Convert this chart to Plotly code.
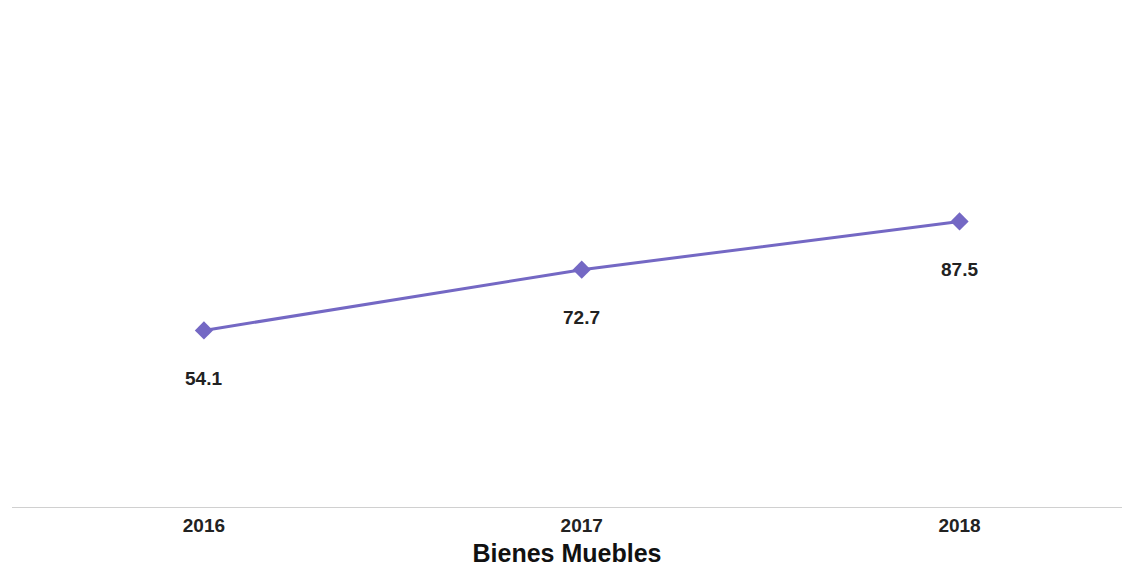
import plotly.graph_objects as go

# data
years = ["2016", "2017", "2018"]
values = [54.1, 72.7, 87.5]
title = "Bienes Muebles"

line_color = "#7468c4"
font_family = "Liberation Sans, Arial, sans-serif"

fig = go.Figure()

fig.add_trace(go.Scatter(
    x=years,
    y=values,
    mode="lines+markers",
    line=dict(color=line_color, width=3),
    marker=dict(symbol="diamond", size=14, color=line_color),
    hoverinfo="x+y",
    showlegend=False,
))

# value labels sit under each point
# (category position given by index, a "2016" string gets read as a number)
for i, v in enumerate(values):
    fig.add_annotation(
        x=i, y=v, xref="x", yref="y",
        text=f"<b>{v:.1f}</b>",
        showarrow=False, yshift=-48,
        font=dict(family=font_family, size=19, color="#222222"),
    )

# the page body has an 8px margin, so the figure is a bit smaller than the window
fig.update_layout(
    width=1127, height=559,
    margin=dict(l=4, r=13, t=12, b=60),
    paper_bgcolor="white",
    plot_bgcolor="white",
    xaxis=dict(
        type="category",
        range=[-0.508, 2.43],
        automargin=False,
        showline=True, linecolor="#d0d0d0", linewidth=1,
        showgrid=False, ticks="",
        ticklabelstandoff=1,
        tickprefix="<b>", ticksuffix="</b>",
        tickfont=dict(family=font_family, size=19, color="#222222"),
        title=dict(text="<b>" + title + "</b>", standoff=9,
                   font=dict(family=font_family, size=25, color="#111111")),
    ),
    yaxis=dict(
        range=[0, 149.2],
        automargin=False,
        showticklabels=False, showline=False,
        showgrid=False, zeroline=False,
    ),
)

fig.write_html("out.html")
